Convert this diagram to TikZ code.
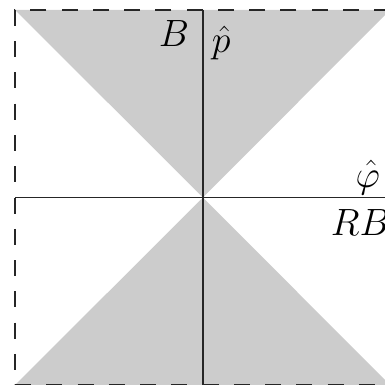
\documentclass[tikz,border=0pt]{standalone}
\usepackage{fix-cm}

\begin{document}
\begin{tikzpicture}[x=1pt,y=-1pt,line width=1.8pt,
    font=\fontsize{38}{44}\selectfont]
  \useasboundingbox (0,0) rectangle (384,385);
  \coordinate (O) at (203,197.5);
  \coordinate (tl) at (15,10);
  \coordinate (tr) at (390,10);
  \coordinate (bl) at (15,385);
  \coordinate (br) at (390,385);
  % shaded cones
  \fill[black!20] (tl)--(tr)--(O)--cycle;
  \fill[black!20] (bl)--(br)--(O)--cycle;
  % axes
  \draw[black!85] (O|-tl)--(O|-bl);
  \draw[black!85] (tl|-O)--(tr|-O);
  \draw[dash pattern=on 16pt off 15.25pt,black!85] (tr)--(tl)--(bl)--(br)--cycle;
  \node[anchor=base east,inner sep=0pt] (lB) at (190,47) {$B$};
  \node[anchor=base west,inner sep=0pt] (lp) at (211,53) {$\hat p$};
  \node[anchor=base east,inner sep=0pt] (lphi) at (381,187) {$\hat\varphi$};
  \node[anchor=base west,inner sep=0pt] (lRB) at (330,235) {$RB$};
\end{tikzpicture}
\end{document}
